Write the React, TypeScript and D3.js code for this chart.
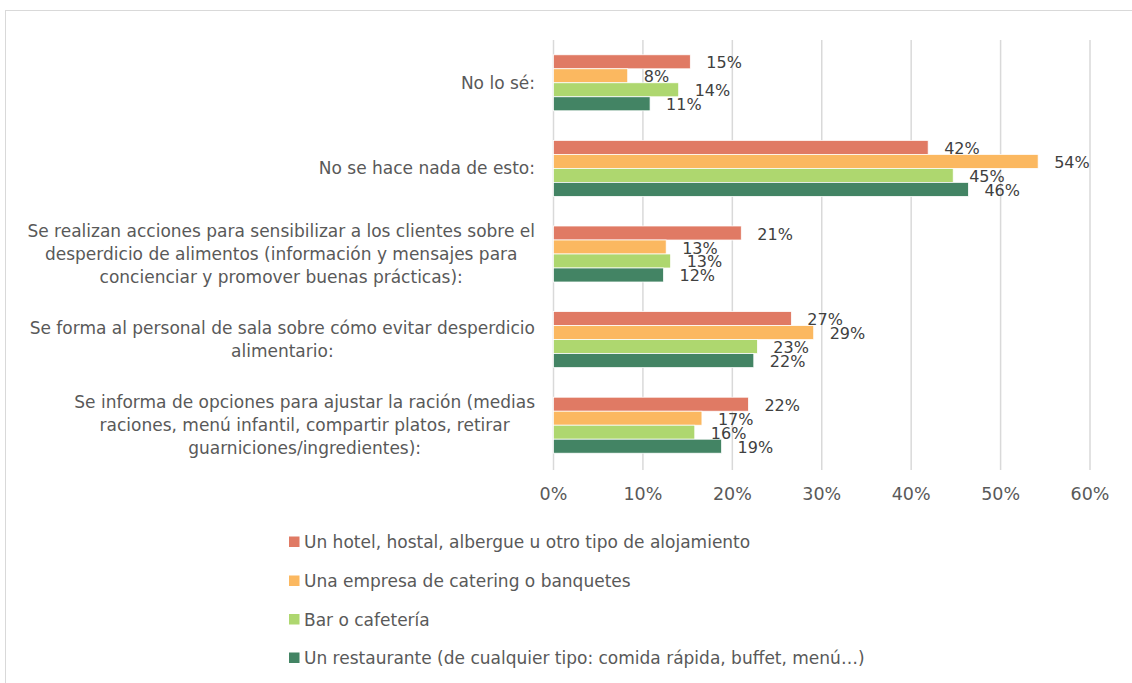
import React, { useEffect, useRef } from "react";
import * as d3 from "d3";

const categories: string[][] = [
  ["No lo sé:"],
  ["No se hace nada de esto:"],
  [
    "Se realizan acciones para sensibilizar a los clientes sobre el",
    "desperdicio de alimentos (información y mensajes para",
    "concienciar y promover buenas prácticas):",
  ],
  ["Se forma al personal de sala sobre cómo evitar desperdicio", "alimentario:"],
  [
    "Se informa de opciones para ajustar la ración (medias",
    "raciones, menú infantil, compartir platos, retirar",
    "guarniciones/ingredientes):",
  ],
];

const seriesNames = [
  "Un hotel, hostal, albergue u otro tipo de alojamiento",
  "Una empresa de catering o banquetes",
  "Bar o cafetería",
  "Un restaurante (de cualquier tipo: comida rápida, buffet, menú…)",
];

const hotel = [0.153, 0.419, 0.21, 0.266, 0.218];
const catering = [0.083, 0.542, 0.126, 0.291, 0.166];
const bar = [0.14, 0.447, 0.131, 0.228, 0.158];
const restaurante = [0.108, 0.464, 0.123, 0.224, 0.188];

const seriesValues = [hotel, catering, bar, restaurante];
const colors = ["#E07A64", "#FBB860", "#AED76F", "#438464"];
const xTicks = [0, 0.1, 0.2, 0.3, 0.4, 0.5, 0.6];

const FONT = "'Century Gothic', 'DejaVu Sans', sans-serif";

export default function App() {
  const ref = useRef<SVGSVGElement>(null);

  useEffect(() => {
    const svg = d3.select(ref.current);
    svg.selectAll("*").remove();

    svg
      .append("rect")
      .attr("x", 5.5)
      .attr("y", 10.5)
      .attr("width", 1140)
      .attr("height", 700)
      .attr("fill", "#fff")
      .attr("stroke", "#d9d9d9")
      .attr("stroke-width", 1);

    const x = d3.scaleLinear().domain([0, 0.6]).range([553.5, 1090]);
    const y = d3
      .scaleBand<number>()
      .domain(d3.range(categories.length))
      .range([40, 468])
      .paddingInner(0.346)
      .paddingOuter(0.173);
    const ys = d3
      .scaleBand<number>()
      .domain(d3.range(seriesNames.length))
      .range([0, y.bandwidth()]);

    // gridlines
    svg
      .append("g")
      .selectAll("line")
      .data(xTicks)
      .join("line")
      .attr("x1", (d) => x(d))
      .attr("x2", (d) => x(d))
      .attr("y1", 40)
      .attr("y2", 470)
      .attr("stroke", "#d9d9d9")
      .attr("stroke-width", 1.5);

    // tick labels
    svg
      .append("g")
      .selectAll("text")
      .data(xTicks)
      .join("text")
      .attr("x", (d) => x(d))
      .attr("y", 494)
      .attr("text-anchor", "middle")
      .attr("dominant-baseline", "central")
      .attr("font-family", FONT)
      .attr("font-size", 17.5)
      .attr("fill", "#595959")
      .text((d) => d3.format(".0%")(d));

    // bars
    seriesValues.forEach((vals, si) => {
      const g = svg.append("g");
      g.selectAll("rect")
        .data(vals)
        .join("rect")
        .attr("x", x(0))
        .attr("y", (_, i) => (y(i) as number) + (ys(si) as number))
        .attr("width", (d) => x(d) - x(0))
        .attr("height", ys.bandwidth())
        .attr("fill", colors[si])
        .attr("stroke", "#fff")
        .attr("stroke-width", 0.75);
    });

    // data labels
    seriesValues.forEach((vals, si) => {
      svg
        .append("g")
        .selectAll("text")
        .data(vals)
        .join("text")
        .attr("x", (d) => x(d) + 16)
        .attr("y", (_, i) => (y(i) as number) + (ys(si) as number) + ys.bandwidth() / 2 + 1)
        .attr("dominant-baseline", "central")
        .attr("font-family", FONT)
        .attr("font-size", 16)
        .attr("fill", "#404040")
        .text((d) => d3.format(".0%")(d));
    });

    // category labels
    const lineH = 23;
    categories.forEach((lines, ci) => {
      const cy = (y(ci) as number) + y.bandwidth() / 2;
      const g = svg.append("g");
      const texts = g
        .selectAll("text")
        .data(lines)
        .join("text")
        .attr("x", 0)
        .attr("y", (_, li) => cy + (li - (lines.length - 1) / 2) * lineH)
        .attr("text-anchor", "middle")
        .attr("dominant-baseline", "central")
        .attr("font-family", FONT)
        .attr("font-size", 17)
        .attr("fill", "#595959")
        .text((d) => d);
      let maxW = 0;
      texts.each(function () {
        const w = (this as SVGTextElement).getComputedTextLength();
        if (w > maxW) maxW = w;
      });
      g.attr("transform", `translate(${535 - maxW / 2},0)`);
    });

    // legend
    const legendY = [542, 581, 619.5, 658];
    seriesNames.forEach((name, si) => {
      const g = svg.append("g").attr("transform", `translate(289,${legendY[si]})`);
      g.append("rect")
        .attr("x", 0)
        .attr("y", -5.5)
        .attr("width", 10.5)
        .attr("height", 10.5)
        .attr("fill", colors[si]);
      g.append("text")
        .attr("x", 15)
        .attr("y", 0)
        .attr("dominant-baseline", "central")
        .attr("font-family", FONT)
        .attr("font-size", 17)
        .attr("fill", "#595959")
        .text(name);
    });
  }, []);

  return (
    <svg
      ref={ref}
      width={1132}
      height={683}
      style={{ position: "absolute", left: 0, top: 0, background: "#fff" }}
    />
  );
}
